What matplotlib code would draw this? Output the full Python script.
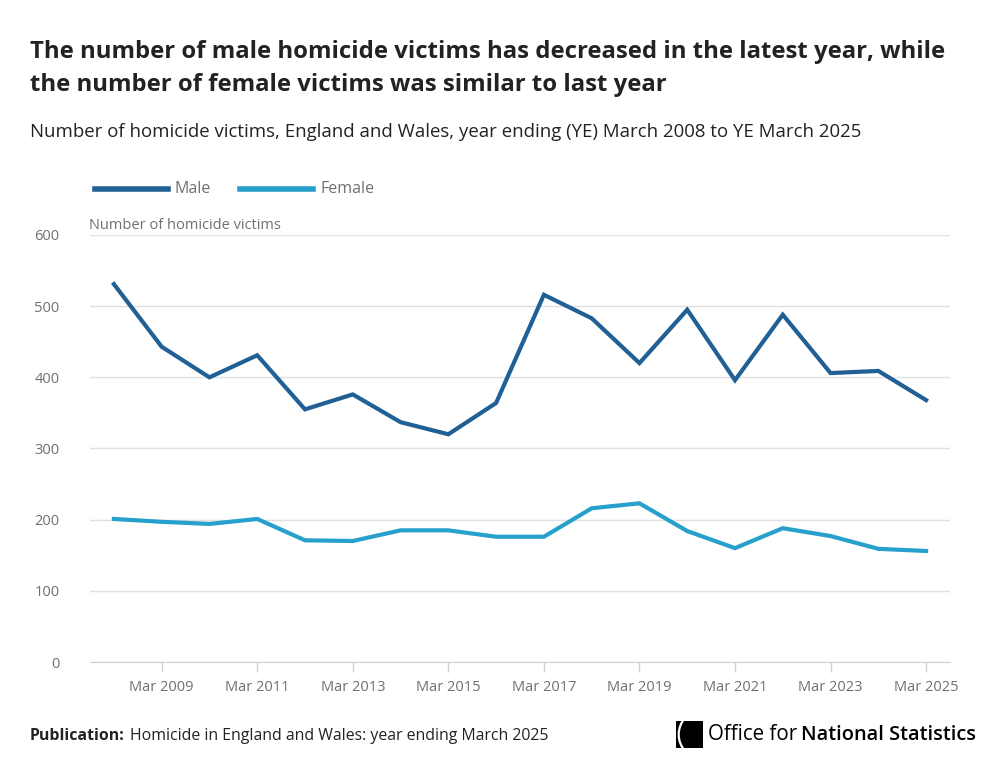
import numpy as np
import matplotlib.pyplot as plt
from matplotlib.patches import Rectangle, Arc

plt.rcParams['font.family'] = ['Open Sans', 'DejaVu Sans']

# Data: homicide victims, year ending March
years = list(range(2008, 2026))
male = [531, 443, 400, 431, 355, 376, 337, 320, 364, 516, 483, 420, 495, 396, 488, 406, 409, 368]
female = [201, 197, 194, 201, 171, 170, 185, 185, 176, 176, 216, 223, 184, 160, 188, 177, 159, 156]
tick_years = [2009, 2011, 2013, 2015, 2017, 2019, 2021, 2023, 2025]
tick_labels = ['Mar %d' % y for y in tick_years]

male_col = '#206095'
female_col = '#27a0cc'
grey = '#707071'
dark = '#222222'

fig = plt.figure(figsize=(10.02, 7.76), dpi=100)
ax = fig.add_axes([90 / 1002, 1 - 662 / 776, 860 / 1002, 427 / 776])

x = np.arange(len(years))
ax.plot(x, male, color=male_col, lw=3, solid_joinstyle='miter', zorder=3)
ax.plot(x, female, color=female_col, lw=3, solid_joinstyle='miter', zorder=3)

ax.set_xlim(-0.5, len(years) - 0.5)
ax.set_ylim(0, 600)
ax.set_yticks(range(0, 700, 100))
ax.set_xticks([years.index(y) for y in tick_years])
ax.set_xticklabels(tick_labels)
ax.grid(axis='y', color='#e0e0e0', lw=1)
ax.set_axisbelow(True)
for s in ['top', 'right', 'left']:
    ax.spines[s].set_visible(False)
ax.spines['bottom'].set_color('#d0d0d0')
ax.tick_params(axis='y', length=0, pad=22, labelsize=10.5, labelcolor=grey)
ax.tick_params(axis='x', length=7, width=1, color='#d0d0d0', pad=6,
               labelsize=10.5, labelcolor=grey)

# y axis title above the plot
fig.text(89 / 1002, 1 - 225 / 776, 'Number of homicide victims', fontsize=10.5,
         color=grey, va='center', ha='left')

# legend drawn by hand
ly = 1 - 189 / 776
fig.add_artist(plt.Line2D([95 / 1002, 168 / 1002], [ly, ly], color=male_col, lw=4))
fig.text(175 / 1002, ly, 'Male', fontsize=11.5, color=grey, va='center')
fig.add_artist(plt.Line2D([240 / 1002, 313 / 1002], [ly, ly], color=female_col, lw=4))
fig.text(320 / 1002, ly, 'Female', fontsize=11.5, color=grey, va='center')

# titles
fig.text(30 / 1002, 1 - 52 / 776,
         'The number of male homicide victims has decreased in the latest year, while',
         fontsize=17.2, fontweight='bold', color=dark, va='center')
fig.text(30 / 1002, 1 - 85 / 776,
         'the number of female victims was similar to last year',
         fontsize=17.2, fontweight='bold', color=dark, va='center')
fig.text(30 / 1002, 1 - 132 / 776,
         'Number of homicide victims, England and Wales, year ending (YE) March 2008 to YE March 2025',
         fontsize=13.4, color=dark, va='center')

# footer
fig.text(30 / 1002, 1 - 736 / 776, 'Publication:', fontsize=11.4, fontweight='bold',
         color=dark, va='center')
fig.text(130 / 1002, 1 - 736 / 776, 'Homicide in England and Wales: year ending March 2025',
         fontsize=11.4, color=dark, va='center')

# ONS logo (simplified)
lax = fig.add_axes([676 / 1002, 1 - 748 / 776, 27 / 1002, 27 / 776])
lax.set_xlim(0, 1)
lax.set_ylim(0, 1)
lax.axis('off')
lax.add_patch(Rectangle((0, 0), 1, 1, color='black'))
arc = Arc((1.45, 0.5), 2.7, 2.2, theta1=115, theta2=245, color='white', lw=1.6)
lax.add_patch(arc)
arc.set_clip_path(lax.patch)
fig.text(708 / 1002, 1 - 735 / 776, 'Office for', fontsize=14.8, color='black', va='center')
fig.text(801 / 1002, 1 - 735 / 776, 'National Statistics', fontsize=14.4, fontweight='semibold',
         color='black', va='center')

fig.savefig('out.png', dpi=100, facecolor='white')
